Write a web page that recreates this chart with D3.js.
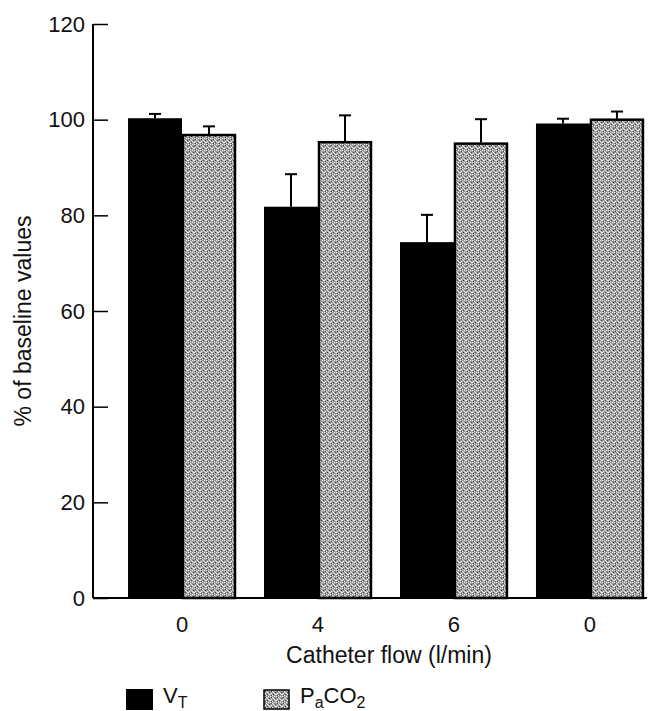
<!DOCTYPE html>
<html lang="en">
<head>
<meta charset="UTF-8">
<title>Catheter flow</title>
<script src="https://d3js.org/d3.v7.min.js"></script>
<style>
  body { margin: 0; background: #fff; }
  text { font-family: "Liberation Sans", Arial, sans-serif; fill: #111; }
</style>
</head>
<body>
<svg id="chart" width="656" height="711"></svg>
<script>
const flows = ["0", "4", "6", "0 "];
const vtMean = [100.3, 81.8, 74.4, 99.2];
const vtErr = [0.9, 6.8, 5.7, 1.0];
const pacoMean = [97.0, 95.5, 95.2, 100.2];
const pacoErr = [1.6, 5.4, 4.9, 1.5];
const yTicks = [0, 20, 40, 60, 80, 100, 120];

const svg = d3.select("#chart");
const FONT = "'Liberation Sans', Arial, sans-serif";

// dithered grey fill like the printed screen
const defs = svg.append("defs");
const pat = defs.append("pattern")
  .attr("id", "screen")
  .attr("patternUnits", "userSpaceOnUse")
  .attr("width", 6).attr("height", 6);
pat.append("rect").attr("width", 6).attr("height", 6).attr("fill", "#9a9a9a");
[[0,0],[2,1],[4,0],[1,3],[3,2],[5,4],[0,4],[2,5],[4,3]].forEach(([px, py]) => {
  pat.append("rect").attr("x", px).attr("y", py).attr("width", 1).attr("height", 1).attr("fill", "#f2f2f2");
});
[[1,1],[5,2],[3,4],[1,5]].forEach(([px, py]) => {
  pat.append("rect").attr("x", px).attr("y", py).attr("width", 1).attr("height", 1).attr("fill", "#444");
});

const y = d3.scaleLinear().domain([0, 120]).range([598, 24]);
const x = d3.scaleBand().domain(flows).range([93, 647])
  .paddingInner(0.206).paddingOuter(0.14).align(0.92);
const sub = d3.scaleBand().domain(["vt", "paco"]).range([0, x.bandwidth()]);

const groups = flows.map((f, i) => ({
  flow: f,
  bars: [
    { key: "vt", v: vtMean[i], e: vtErr[i] },
    { key: "paco", v: pacoMean[i], e: pacoErr[i] }
  ]
}));

const g = svg.selectAll("g.grp").data(groups).enter().append("g")
  .attr("class", "grp")
  .attr("transform", d => `translate(${x(d.flow)},0)`);

// error bars (drawn first so bar covers the lower half)
g.selectAll("g.err").data(d => d.bars).enter().append("g")
  .attr("class", "err")
  .each(function (d) {
    const cx = sub(d.key) + sub.bandwidth() / 2;
    const s = d3.select(this);
    s.append("line").attr("x1", cx).attr("x2", cx)
      .attr("y1", y(d.v)).attr("y2", y(d.v + d.e))
      .attr("stroke", "#000").attr("stroke-width", 2);
    s.append("line").attr("x1", cx - 6).attr("x2", cx + 6)
      .attr("y1", y(d.v + d.e)).attr("y2", y(d.v + d.e))
      .attr("stroke", "#000").attr("stroke-width", 2);
  });

g.selectAll("rect.bar").data(d => d.bars).enter().append("rect")
  .attr("class", "bar")
  .attr("x", d => sub(d.key) + (d.key === "paco" ? 1 : 0))
  .attr("width", d => sub.bandwidth() - (d.key === "paco" ? 2 : 0))
  .attr("y", d => y(d.v) + (d.key === "paco" ? 1 : 0))
  .attr("height", d => y(0) - y(d.v) - (d.key === "paco" ? 1 : 0))
  .attr("fill", d => d.key === "vt" ? "#000" : "url(#screen)")
  .attr("stroke", d => d.key === "vt" ? "none" : "#000")
  .attr("stroke-width", 2.5);

// y axis
const yAxis = d3.axisRight(y).tickValues(yTicks).tickSize(15).tickFormat(d => d);
const ya = svg.append("g").attr("transform", "translate(93,0)").call(yAxis);
ya.select(".domain").attr("stroke", "#000").attr("stroke-width", 2).attr("d", `M0,${y(120)}V${y(0)}`);
ya.selectAll(".tick line").attr("stroke", "#000").attr("stroke-width", 1.5);
ya.selectAll(".tick text").attr("x", -8).attr("text-anchor", "end")
  .style("font-size", "22px").style("font-family", FONT).attr("fill", "#111");

// x axis
const xAxis = d3.axisBottom(x).tickSize(0).tickFormat(d => d.trim());
const xa = svg.append("g").attr("transform", `translate(0,${y(0)})`).call(xAxis);
xa.select(".domain").attr("stroke", "#000").attr("stroke-width", 2).attr("d", "M93,0H647");
xa.selectAll(".tick text").attr("y", 18).attr("dy", "0.71em")
  .style("font-size", "22px").style("font-family", FONT).attr("fill", "#111");

svg.append("text").attr("x", 389).attr("y", 663).attr("text-anchor", "middle")
  .style("font-size", "23px").text("Catheter flow (l/min)");

svg.append("text").attr("transform", "translate(31,321) rotate(-90)")
  .attr("text-anchor", "middle").style("font-size", "23px").text("% of baseline values");

// legend
const leg = svg.append("g");
leg.append("rect").attr("x", 126).attr("y", 689).attr("width", 27).attr("height", 21).attr("fill", "#000");
const t1 = leg.append("text").attr("x", 163).attr("y", 703).style("font-size", "22px");
t1.append("tspan").text("V");
t1.append("tspan").attr("dy", 5).style("font-size", "16px").text("T");
leg.append("rect").attr("x", 264).attr("y", 690).attr("width", 25).attr("height", 19)
  .attr("fill", "url(#screen)").attr("stroke", "#000").attr("stroke-width", 1.5);
const t2 = leg.append("text").attr("x", 300).attr("y", 703).style("font-size", "22px");
t2.append("tspan").text("P");
t2.append("tspan").attr("dy", 5).style("font-size", "16px").text("a");
t2.append("tspan").attr("dy", -5).text("CO");
t2.append("tspan").attr("dy", 5).style("font-size", "16px").text("2");
</script>
</body>
</html>
